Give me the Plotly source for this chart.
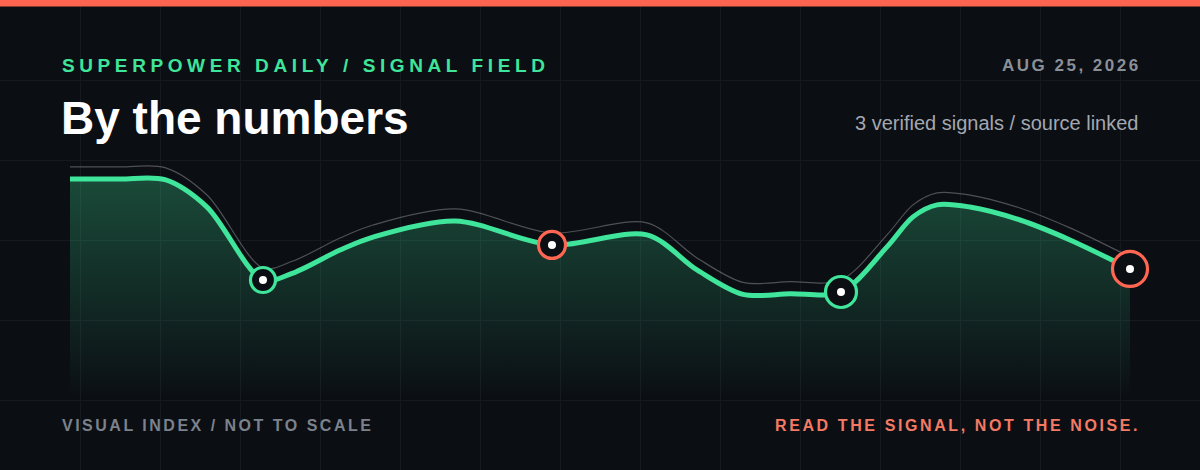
import plotly.graph_objects as go

# ---- data ----
signal_x = [0, 5.0, 9.5, 13.7, 19.3, 22.3, 27.0, 30.3, 38.5, 48.2,
            57.7, 62.7, 67.3, 72.0, 77.1, 81.7, 84.3, 86.7, 90.0, 95.0, 100.0, 106.0]
signal_value = [92.1, 92.1, 91.8, 80.4, 50.0, 52.9, 62.5, 67.9, 74.6, 64.6,
                68.8, 54.2, 44.0, 44.3, 45.0, 63.8, 76.3, 81.3, 80.4, 75.0, 66.7, 54.6]
ghost_value = [97.1, 97.1, 96.8, 85.4, 55.0, 57.9, 67.5, 72.9, 79.6, 69.6,
               73.8, 59.2, 49.0, 49.3, 50.0, 68.8, 81.3, 86.3, 85.4, 80.0, 71.7, 59.6]
marker_x = [19.3, 48.2, 77.1, 106.0]
marker_value = [50.0, 64.6, 45.0, 54.6]
marker_kind = ["green", "coral", "green", "coral"]
marker_size = [25, 27, 31, 35]

# ---- style ----
BG = "#0b0e13"
GRID = "#151920"
GREEN = "#3fe59a"
CORAL = "#ff6752"
FONT = "Liberation Sans, Arial, sans-serif"
W, H = 1200, 470
SMOOTH = 0.9

kind_color = {"green": GREEN, "coral": CORAL}

fig = go.Figure()

# area + main line
fig.add_trace(go.Scatter(
    x=signal_x, y=signal_value, mode="lines",
    line=dict(color=GREEN, width=5, shape="spline", smoothing=SMOOTH),
    fill="tozeroy",
    fillgradient=dict(type="vertical", start=0, stop=max(signal_value),
                      colorscale=[[0, "rgba(63,229,154,0.0)"],
                                  [1, "rgba(63,229,154,0.28)"]]),
    hoverinfo="skip", showlegend=False,
))
# ghost line
fig.add_trace(go.Scatter(
    x=signal_x, y=ghost_value, mode="lines",
    line=dict(color="rgba(255,255,255,0.28)", width=1.2, shape="spline", smoothing=SMOOTH),
    hoverinfo="skip", showlegend=False,
))
# signal markers
fig.add_trace(go.Scatter(
    x=marker_x, y=marker_value, mode="markers",
    marker=dict(size=marker_size, color=BG, opacity=1,
                line=dict(color=[kind_color[k] for k in marker_kind], width=3.2)),
    hoverinfo="skip", showlegend=False,
))
fig.add_trace(go.Scatter(
    x=marker_x, y=marker_value, mode="markers",
    marker=dict(size=8, color="#ffffff", opacity=1, line=dict(width=0)),
    hoverinfo="skip", showlegend=False,
))


def ypix(p):
    return 1 - p / H


def xpix(p):
    return p / W


def spaced(text, sp):
    return f'<span style="letter-spacing:{sp}px">{text}</span>'


def note(text, x, y, anchor, size, color):
    return dict(text=text, x=xpix(x), y=ypix(y), xref="paper", yref="paper",
                xanchor=anchor, yanchor="middle", showarrow=False,
                font=dict(family=FONT, size=size, color=color))


annotations = [
    note("<b>" + spaced("SUPERPOWER DAILY / SIGNAL FIELD", 4.6) + "</b>", 60, 66, "left", 19, GREEN),
    note("<b>By the numbers</b>", 59, 118, "left", 46, "#ffffff"),
    note("<b>" + spaced("AUG 25, 2026", 2.5) + "</b>", 1143, 66, "right", 17, "#8a9098"),
    note("3 verified signals / source linked", 1140, 123, "right", 20, "#a3a8b0"),
    note("<b>" + spaced("VISUAL INDEX / NOT TO SCALE", 2.5) + "</b>", 60, 425, "left", 16, "#7c828b"),
    note("<b>" + spaced("READ THE SIGNAL, NOT THE NOISE.", 2.6) + "</b>", 1142, 425, "right", 16, "#f47a64"),
]

shapes = [
    dict(type="rect", xref="paper", yref="paper", x0=0, x1=1,
         y0=ypix(6.5), y1=1, fillcolor="#ff6450", line=dict(width=0), layer="above"),
]

fig.update_layout(
    width=W, height=H,
    margin=dict(l=0, r=0, t=0, b=0, pad=0),
    paper_bgcolor=BG, plot_bgcolor=BG,
    xaxis=dict(range=[-7, 113], showgrid=True, gridcolor=GRID, gridwidth=1,
               tick0=1, dtick=8, zeroline=False, showticklabels=False,
               ticks="", showline=False, fixedrange=True),
    yaxis=dict(range=[-29.1667, 166.6667], showgrid=True, gridcolor=GRID, gridwidth=1,
               tick0=0, dtick=100 / 3, zeroline=False, showticklabels=False,
               ticks="", showline=False, fixedrange=True),
    annotations=annotations,
    shapes=shapes,
    showlegend=False,
    hovermode=False,
)

fig.write_html("out.html", config=dict(displayModeBar=False, staticPlot=True),
               post_script="document.body.style.margin='0';document.body.style.overflow='hidden';document.body.style.background='#0b0e13';")
